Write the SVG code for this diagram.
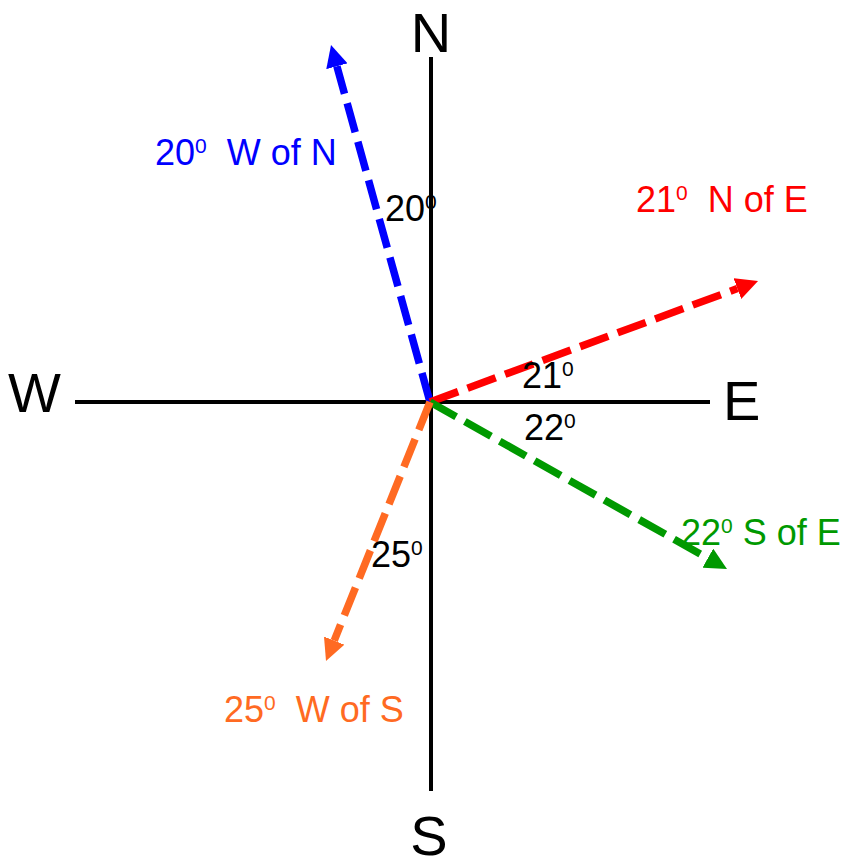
<svg xmlns="http://www.w3.org/2000/svg" width="850" height="860" viewBox="0 0 850 860">
<defs>
<style>
.axis{stroke:#000;stroke-width:4;fill:none}
.vec{stroke-width:7.5;fill:none;stroke-dasharray:30 10}
.ax{font-family:"Liberation Sans",Arial,sans-serif;font-size:56px;fill:#000}
.lbl{font-family:"Liberation Sans",Arial,sans-serif;font-size:36px}
.sup{font-size:21px}
</style>
<marker id="hb" markerUnits="userSpaceOnUse" markerWidth="23" markerHeight="22" refX="0" refY="11" orient="auto"><path d="M0,0 L22,11 L0,22 z" fill="#0000FF"/></marker>
<marker id="hr" markerUnits="userSpaceOnUse" markerWidth="23" markerHeight="22" refX="0" refY="11" orient="auto"><path d="M0,0 L22,11 L0,22 z" fill="#FF0000"/></marker>
<marker id="hg" markerUnits="userSpaceOnUse" markerWidth="23" markerHeight="22" refX="0" refY="11" orient="auto"><path d="M0,0 L22,11 L0,22 z" fill="#009900"/></marker>
<marker id="ho" markerUnits="userSpaceOnUse" markerWidth="23" markerHeight="22" refX="0" refY="11" orient="auto"><path d="M0,0 L22,11 L0,22 z" fill="#FF6A22"/></marker>
</defs>
<rect width="850" height="860" fill="#fff"/>
<g id="axes">
<line class="axis" x1="431" y1="57" x2="431" y2="791"/>
<line class="axis" x1="75" y1="402" x2="710" y2="402"/>
</g>
<g id="connectors">
<line class="vec" stroke="#0000FF" x1="430" y1="402" x2="336.9" y2="66.2" marker-end="url(#hb)"/>
<line class="vec" stroke="#FF0000" x1="430" y1="402" x2="737.4" y2="288.6" marker-end="url(#hr)"/>
<line class="vec" stroke="#009900" x1="430" y1="402" x2="707.8" y2="558.2" marker-end="url(#hg)"/>
<line class="vec" stroke="#FF6A22" x1="430" y1="402" x2="334.2" y2="640.6" marker-end="url(#ho)"/>
</g>
<g id="N"><text class="ax" x="431" y="52" text-anchor="middle">N</text></g>
<g id="S"><text class="ax" x="429" y="855" text-anchor="middle">S</text></g>
<g id="W"><text class="ax" x="8" y="412">W</text></g>
<g id="E"><text class="ax" x="723" y="420">E</text></g>
<g id="label-blue"><text class="lbl" fill="#0000FF" x="155" y="165">20<tspan class="sup" dy="-12">0</tspan><tspan dy="12" xml:space="preserve">  W of N</tspan></text></g>
<g id="label-red"><text class="lbl" fill="#FF0000" x="636" y="212">21<tspan class="sup" dy="-12">0</tspan><tspan dy="12" xml:space="preserve">  N of E</tspan></text></g>
<g id="label-green"><text class="lbl" fill="#009900" x="681" y="545">22<tspan class="sup" dy="-12">0</tspan><tspan dy="12" xml:space="preserve"> S of E</tspan></text></g>
<g id="label-orange"><text class="lbl" fill="#FF6A22" x="224" y="722">25<tspan class="sup" dy="-12">0</tspan><tspan dy="12" xml:space="preserve">  W of S</tspan></text></g>
<g id="angle-20"><text class="lbl" fill="#000" x="385" y="221">20<tspan class="sup" dy="-12">0</tspan></text></g>
<g id="angle-21"><text class="lbl" fill="#000" x="522" y="388">21<tspan class="sup" dy="-12">0</tspan></text></g>
<g id="angle-22"><text class="lbl" fill="#000" x="524" y="440">22<tspan class="sup" dy="-12">0</tspan></text></g>
<g id="angle-25"><text class="lbl" fill="#000" x="371" y="567">25<tspan class="sup" dy="-12">0</tspan></text></g>
</svg>
